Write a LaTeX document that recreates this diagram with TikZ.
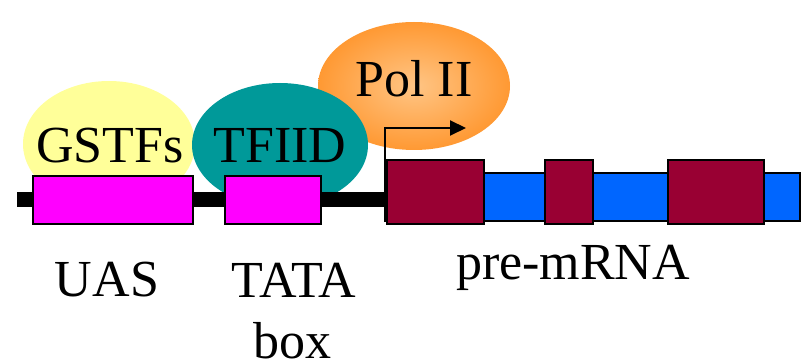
\documentclass[tikz,border=0pt]{standalone}
\usepackage{fontspec}
\setmainfont{Liberation Serif}
\usetikzlibrary{shapes.geometric,arrows.meta}
\definecolor{uascol}{HTML}{FF00FF}
\definecolor{gstfcol}{HTML}{FFFF99}
\definecolor{tfiidcol}{HTML}{009999}
\definecolor{polin}{HTML}{FFC585}
\definecolor{polout}{HTML}{FF9933}
\definecolor{rnacol}{HTML}{0066FF}
\definecolor{exoncol}{HTML}{990033}
\tikzset{
  factor/.style={ellipse, draw=none, inner sep=0pt},
  label text/.style={anchor=base, inner sep=0pt, font=\fontsize{52}{62}\selectfont},
  sitebox/.style={fill=uascol, draw=black, line width=2pt},
  exonbox/.style={fill=exoncol, draw=black, line width=2pt},
}
\begin{document}
\begin{tikzpicture}[x=1pt, y=-1pt]
  \useasboundingbox (0,0) rectangle (805,363);
  % protein factors
  \node[factor, minimum width=192pt, minimum height=128pt,
        shading=radial, inner color=polin, outer color=polout] (pol) at (414,86) {};
  \node[factor, fill=gstfcol, minimum width=172pt, minimum height=126pt] (gstf) at (109,144) {};
  \node[factor, fill=tfiidcol, minimum width=176pt, minimum height=124pt] (tfiid) at (280,145) {};
  \node[label text] (poltext) at (414,97) {Pol II};
  \node[label text] (gstftext) at (110,163) {GSTFs};
  \node[label text] (tfiidtext) at (280,163) {TFIID};
  % promoter DNA and its sites
  \fill[black] (17,192) rectangle (386,207);
  \draw[sitebox] (33,176) rectangle (193,224);
  \draw[sitebox] (225,176) rectangle (321,224);
  % transcribed region with exons
  \draw[fill=rnacol, draw=black, line width=1.5pt] (385,173) rectangle (800,221);
  \draw[exonbox] (387,160) rectangle (484,224);
  \draw[exonbox] (545,160) rectangle (593,224);
  \draw[exonbox] (668,160) rectangle (764,224);
  % transcription start
  \coordinate (tss) at (385,196);
  \coordinate (tssend) at (466,128);
  \draw[line width=2pt, -{Triangle[length=16pt,width=15pt]}] (tss) |- (tssend);
  % labels
  \node[label text] (uas) at (107,296) {UAS};
  \node[label text] (tata) at (294,297) {TATA};
  \node[label text] (box) at (292,358) {box};
  \node[label text] (premrna) at (573,279) {pre-mRNA};
\end{tikzpicture}
\end{document}
